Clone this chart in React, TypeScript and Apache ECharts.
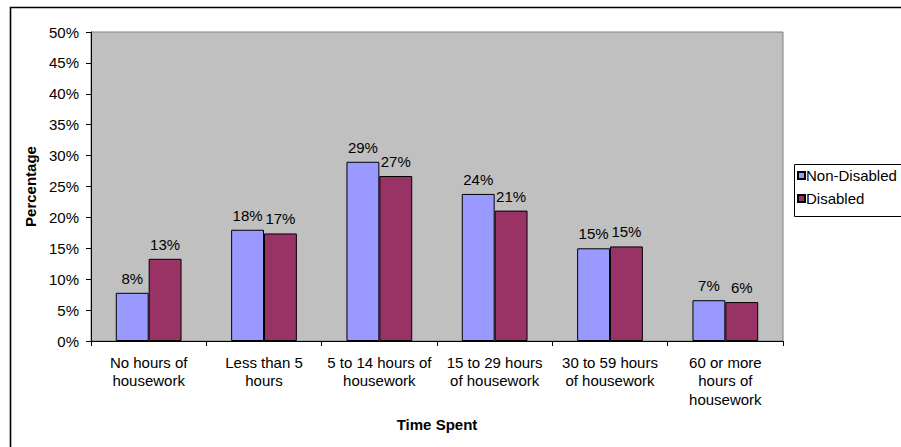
import React, { useEffect, useRef } from "react";
import * as echarts from "echarts";

const categories = [
  "No hours of\nhousework",
  "Less than 5\nhours",
  "5 to 14 hours of\nhousework",
  "15 to 29 hours\nof housework",
  "30 to 59 hours\nof housework",
  "60 or more\nhours of\nhousework",
];
const nonDisabled = [7.8, 18.0, 29.0, 23.8, 15.0, 6.6];
const disabled = [13.3, 17.4, 26.7, 21.1, 15.3, 6.3];
const seriesNames = ["Non-Disabled", "Disabled"];
const yTickMax = 50;
const yTickStep = 5;

const FONT = "Liberation Sans, Arial, sans-serif";

export default function App() {
  const ref = useRef<HTMLDivElement>(null);
  useEffect(() => {
    if (!ref.current) return;
    const chart = echarts.init(ref.current, null, { renderer: "svg" });
    const labelCfg = {
      show: true,
      position: "top",
      distance: 7,
      color: "#000",
      fontSize: 15,
      fontFamily: FONT,
      formatter: (p: any) => Math.round(p.value) + "%",
    };
    chart.setOption({
      animation: false,
      backgroundColor: "#fff",
      textStyle: { fontFamily: FONT },
      grid: {
        left: 91,
        top: 32,
        width: 692,
        height: 309,
        show: true,
        backgroundColor: "#C0C0C0",
        borderColor: "#808080",
        borderWidth: 1,
        containLabel: false,
      },
      graphic: [
        {
          type: "rect",
          z: 0,
          silent: true,
          shape: { x: 10.5, y: 7.5, width: 1000, height: 1000 },
          style: { fill: "none", stroke: "#000", lineWidth: 1.6 },
        },
        {
          type: "rect",
          z: 1,
          silent: true,
          shape: { x: 794.5, y: 164.5, width: 200, height: 52 },
          style: { fill: "#fff", stroke: "#000", lineWidth: 1 },
        },
      ],
      legend: {
        orient: "vertical",
        left: 795,
        top: 165,
        z: 5,
        padding: [2, 2, 2, 2],
        itemWidth: 7,
        itemHeight: 7,
        itemGap: 6,
        icon: "rect",
        data: seriesNames,
        textStyle: { fontSize: 15, color: "#000", fontFamily: FONT, lineHeight: 17, padding: [0, 0, 0, -4] },
      },
      xAxis: {
        type: "category",
        data: categories,
        name: "Time Spent",
        nameLocation: "middle",
        nameGap: 76,
        nameTextStyle: { fontSize: 15, fontWeight: "bold", color: "#000", fontFamily: FONT },
        axisLine: { show: true, lineStyle: { color: "#000", width: 1 } },
        axisTick: { show: true, length: 5, lineStyle: { color: "#000" } },
        axisLabel: {
          interval: 0,
          margin: 12,
          fontSize: 15,
          lineHeight: 18.5,
          color: "#000",
          fontFamily: FONT,
        },
        splitLine: { show: false },
      },
      yAxis: {
        type: "value",
        min: 0,
        max: yTickMax,
        interval: yTickStep,
        name: "Percentage",
        nameLocation: "middle",
        nameGap: 52,
        nameRotate: 90,
        nameTextStyle: { fontSize: 15, fontWeight: "bold", color: "#000", fontFamily: FONT },
        axisLine: { show: true, lineStyle: { color: "#000", width: 1 } },
        axisTick: { show: true, length: 5, inside: false, lineStyle: { color: "#000" } },
        axisLabel: {
          margin: 12,
          fontSize: 15,
          color: "#000",
          fontFamily: FONT,
          formatter: "{value}%",
        },
        splitLine: { show: false },
      },
      series: [
        {
          name: seriesNames[0],
          type: "bar",
          data: nonDisabled,
          barGap: "0%",
          barCategoryGap: "43%",
          itemStyle: { color: "#9999FF", borderColor: "#000", borderWidth: 1 },
          label: labelCfg,
        },
        {
          name: seriesNames[1],
          type: "bar",
          data: disabled,
          barGap: "0%",
          barCategoryGap: "43%",
          itemStyle: { color: "#993366", borderColor: "#000", borderWidth: 1 },
          label: labelCfg,
        },
      ],
    });
    return () => chart.dispose();
  }, []);
  return (
    <div
      ref={ref}
      style={{ position: "fixed", left: 0, top: 0, width: 901, height: 447 }}
    />
  );
}
